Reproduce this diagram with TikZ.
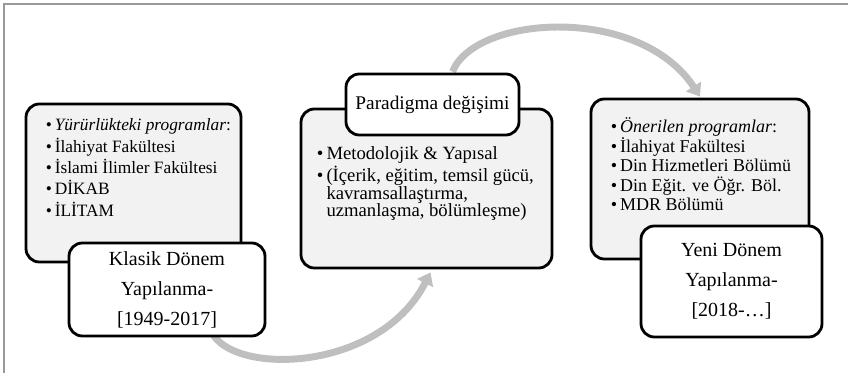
\documentclass[tikz,border=0pt]{standalone}
\usepackage{fontspec}
\setmainfont{Liberation Serif}
\usetikzlibrary{arrows.meta,positioning,calc}
\newcommand{\blt}{\textbullet\,}
\newcommand{\bltgap}{\phantom{\textbullet\,}}

\begin{document}
\begin{tikzpicture}[x=0.75pt,y=-0.75pt] % one unit = one pixel of the layout, y downwards
\tikzset{bigbox/.style={draw=black, line width=2.1pt, rounded corners=10pt, fill=gray!10, inner sep=0pt}}
\tikzset{tagbox/.style={draw=black, line width=2.1pt, rounded corners=10pt, fill=white, align=center, inner sep=0pt, font=\fontsize{15}{22.5}\selectfont}}
\tikzset{listtext/.style={anchor=north west, inner sep=0pt, align=left, font=\fontsize{13}{16}\selectfont}}
\tikzset{flowarrow/.style={draw=gray!50, line width=5.2pt, -{Triangle[length=9pt,width=13pt]}}}
\useasboundingbox (0,0) rectangle (848,373);
\draw[gray!80, line width=1.2pt] (4,373) -- (4,4) -- (848,4); % frame on two sides only

% background boxes
\node[bigbox, minimum width=215*0.75pt, minimum height=158*0.75pt] (oldbg) at (133.5,183) {};
\node[bigbox, minimum width=251*0.75pt, minimum height=159*0.75pt] (midbg) at (426.5,188.5) {};
\node[bigbox, minimum width=218*0.75pt, minimum height=160*0.75pt] (newbg) at (700,179) {};

% curved flow arrows, behind the tags
\coordinate (oldout) at ($(oldbg.south)+(80,72)$);
\coordinate (midin) at ($(midbg.south)+(4,3)$);
\coordinate (midout) at ($(midbg.north)+(26,-36)$);
\coordinate (newin) at ($(newbg.north)+(0,-1)$);
\draw[flowarrow] (oldout) .. controls +(27,40) and +(-50,98) .. (midin);
\draw[flowarrow] (midout) .. controls +(23,-57) and +(-60,-92) .. (newin);

% tags
\node[tagbox, minimum width=196*0.75pt, minimum height=93*0.75pt] (old) at (167,289.5) {Klasik Dönem\\Yapılanma-\\{}[1949-2017]};
\node[tagbox, minimum width=173*0.75pt, minimum height=61*0.75pt, font=\fontsize{14.5}{18}\selectfont] (shift) at (432.5,104.5) {Paradigma değişimi};
\node[tagbox, minimum width=181*0.75pt, minimum height=111*0.75pt] (new) at (731.5,281.5) {Yeni Dönem\\Yapılanma-\\{}[2018-\dots]};

% lists
\node[listtext] (oldlist) at ($(oldbg.north west)+(21,16)$) {\blt\textit{Yürürlükteki programlar}:\\\blt İlahiyat Fakültesi\\\blt İslami İlimler Fakültesi\\\blt DİKAB\\\blt İLİTAM};
\node[listtext, font=\fontsize{14}{13}\selectfont] (midlist) at ($(midbg.north west)+(17,39)$) {\blt Metodolojik \& Yapısal\\[1pt]\blt(İçerik, eğitim, temsil gücü,\\\bltgap kavramsallaştırma,\\\bltgap uzmanlaşma, bölümleşme)};
\node[listtext, font=\fontsize{13.5}{14.6}\selectfont] (newlist) at ($(newbg.north west)+(21,20)$) {\blt\textit{Önerilen programlar}:\\\blt İlahiyat Fakültesi\\\blt Din Hizmetleri Bölümü\\\blt Din Eğit. ve Öğr. Böl.\\\blt MDR Bölümü};
\end{tikzpicture}
\end{document}
